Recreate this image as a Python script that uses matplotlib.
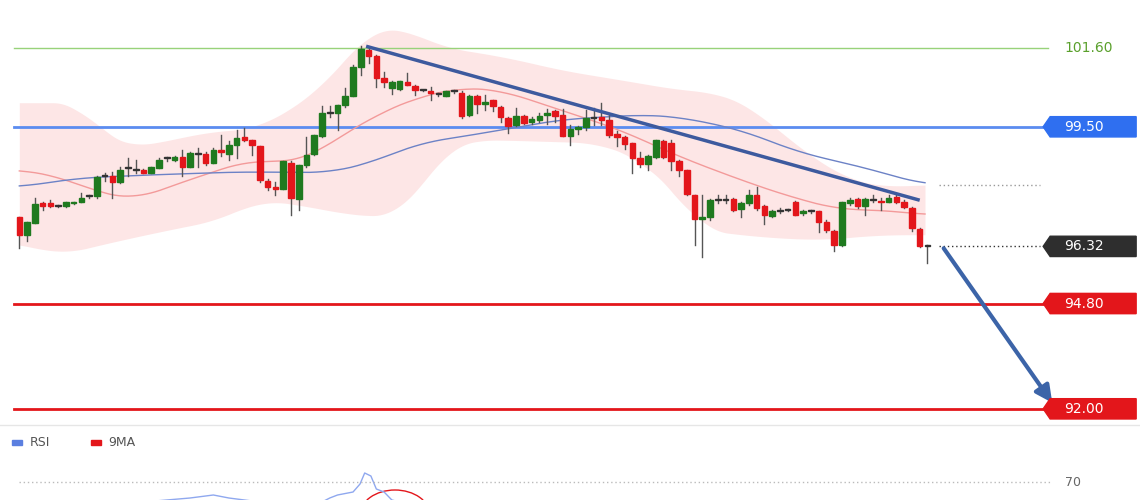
import numpy as np
import matplotlib.pyplot as plt
from matplotlib.patches import Rectangle, Polygon, Ellipse

# -------------------
# данные (цены)
# -------------------
opens = [97.11, 96.63, 96.94, 97.47, 97.47, 97.40, 97.40, 97.47, 97.49, 97.65,
         97.65, 98.18, 98.18, 98.02, 98.40, 98.35, 98.35, 98.28, 98.40, 98.67,
         98.62, 98.69, 98.44, 98.78, 98.78, 98.55, 98.89, 98.78, 99.02, 99.22,
         99.14, 99.00, 98.07, 97.91, 97.84, 98.55, 97.58, 98.49, 98.78, 99.26,
         99.86, 99.88, 100.09, 100.31, 101.10, 101.55, 101.39, 100.79, 100.53, 100.50,
         100.68, 100.59, 100.47, 100.44, 100.38, 100.32, 100.44, 100.41, 99.82, 100.32,
         100.11, 100.20, 100.02, 99.73, 99.55, 99.79, 99.64, 99.69, 99.82, 99.91,
         99.82, 99.26, 99.44, 99.49, 99.73, 99.76, 99.69, 99.31, 99.24, 99.08,
         98.67, 98.52, 98.71, 99.13, 99.08, 98.60, 98.34, 97.69, 97.04, 97.10,
         97.56, 97.56, 97.58, 97.31, 97.47, 97.69, 97.40, 97.13, 97.25, 97.29,
         97.51, 97.20, 97.25, 97.25, 96.98, 96.74, 96.36, 97.47, 97.58, 97.40,
         97.56, 97.54, 97.51, 97.63, 97.49, 97.34, 96.78, 96.33]
closes = [96.63, 96.96, 97.45, 97.40, 97.40, 97.40, 97.49, 97.49, 97.60, 97.65,
          98.16, 98.18, 98.04, 98.35, 98.40, 98.35, 98.28, 98.42, 98.62, 98.67,
          98.69, 98.44, 98.80, 98.78, 98.55, 98.89, 98.82, 99.02, 99.20, 99.14,
          99.02, 98.09, 97.91, 97.84, 98.58, 97.60, 98.49, 98.76, 99.29, 99.86,
          99.86, 100.09, 100.31, 101.10, 101.57, 101.39, 100.79, 100.68, 100.68, 100.71,
          100.62, 100.47, 100.47, 100.40, 100.38, 100.44, 100.44, 99.79, 100.31, 100.11,
          100.17, 100.06, 99.76, 99.53, 99.79, 99.61, 99.70, 99.79, 99.88, 99.79,
          99.26, 99.44, 99.49, 99.73, 99.73, 99.69, 99.29, 99.22, 99.05, 98.67,
          98.52, 98.73, 99.14, 98.71, 98.58, 98.34, 97.72, 97.04, 97.11, 97.56,
          97.56, 97.56, 97.29, 97.47, 97.69, 97.34, 97.16, 97.25, 97.25, 97.29,
          97.16, 97.25, 97.25, 96.96, 96.76, 96.36, 97.49, 97.56, 97.40, 97.58,
          97.56, 97.51, 97.60, 97.49, 97.36, 96.80, 96.32, 96.33]
highs = [97.11, 96.96, 97.60, 97.51, 97.56, 97.42, 97.51, 97.51, 97.73, 97.69,
         98.18, 98.27, 98.31, 98.44, 98.67, 98.62, 98.37, 98.44, 98.67, 98.71,
         98.73, 98.87, 98.84, 98.93, 98.84, 98.93, 99.29, 99.11, 99.42, 99.46,
         99.15, 99.00, 98.11, 98.04, 98.58, 98.58, 98.49, 99.24, 99.29, 100.04,
         100.04, 100.09, 100.53, 101.15, 101.65, 101.59, 101.42, 100.97, 100.71, 100.71,
         100.93, 100.62, 100.48, 100.57, 100.41, 100.44, 100.47, 100.44, 100.35, 100.35,
         100.35, 100.22, 100.04, 99.76, 100.00, 99.82, 99.76, 99.86, 99.97, 99.95,
         99.97, 99.55, 99.53, 99.95, 100.00, 100.13, 99.82, 99.38, 99.26, 99.08,
         98.84, 98.76, 99.15, 99.15, 99.15, 98.62, 98.35, 97.69, 97.69, 97.58,
         97.69, 97.69, 97.60, 97.51, 97.82, 97.91, 97.42, 97.29, 97.34, 97.31,
         97.54, 97.29, 97.29, 97.27, 97.03, 96.76, 97.51, 97.60, 97.60, 97.60,
         97.69, 97.60, 97.69, 97.69, 97.56, 97.38, 96.81, 96.36]
lows = [96.27, 96.45, 96.94, 97.29, 97.38, 97.38, 97.38, 97.45, 97.49, 97.60,
        97.60, 98.07, 97.60, 98.00, 98.18, 98.27, 98.27, 98.27, 98.40, 98.60,
        98.60, 98.18, 98.43, 98.44, 98.49, 98.53, 98.73, 98.62, 98.67, 99.11,
        98.76, 98.04, 97.82, 97.69, 97.84, 97.16, 97.29, 98.44, 98.76, 99.24,
        99.77, 99.42, 100.02, 100.31, 100.88, 101.19, 100.57, 100.57, 100.38, 100.48,
        100.62, 100.35, 100.44, 100.20, 100.32, 100.31, 100.41, 99.73, 99.79, 99.88,
        99.95, 99.91, 99.64, 99.33, 99.51, 99.58, 99.58, 99.64, 99.58, 99.64,
        99.26, 99.02, 99.31, 99.42, 99.55, 99.55, 99.24, 98.98, 98.90, 98.28,
        98.44, 98.35, 98.67, 98.67, 98.35, 98.18, 97.69, 96.36, 96.05, 97.03,
        97.47, 97.47, 97.27, 97.10, 97.42, 97.29, 96.92, 97.11, 97.20, 97.27,
        97.16, 97.16, 97.22, 96.71, 96.69, 96.21, 96.33, 97.42, 97.34, 97.16,
        97.51, 97.29, 97.49, 97.47, 97.34, 96.74, 96.30, 95.87]

# полосы Боллинджера и средние (точки)
upper_idx = [0, 8, 10.4, 13.6, 18.1, 23.3, 31, 38.7, 41.9, 45.2, 49.1, 54.2, 56.8,
             63.2, 69.7, 77.4, 85.1, 90.3, 94.2, 99.3, 103.2, 107.1, 111, 116.7]
upper_val = [100.14, 100.14, 99.34, 98.97, 99.07, 99.34, 99.47, 100.48, 101.28, 102.08,
             102.16, 101.63, 101.55, 101.33, 101.01, 100.75, 100.48, 100.40, 100.03,
             99.15, 98.54, 98.09, 97.90, 97.96]
lower_idx = [0, 5.2, 10.4, 18.1, 25.9, 31, 36.2, 42.6, 46.5, 49.1, 52, 55, 58,
             61.9, 74.8, 80, 85.1, 87.7, 95.5, 103.2, 111, 116.7]
lower_val = [96.41, 96.09, 96.36, 96.71, 97.03, 97.56, 97.42, 97.16, 97.11, 97.16,
             98.0, 98.9, 99.15, 99.15, 99.07, 98.62, 97.64, 96.76, 96.57, 96.49,
             96.63, 96.63]
ma_red_idx = [0, 5.2, 10.4, 14.9, 20.7, 25.9, 29.7, 34.9, 37.4, 41.3, 46.5, 51.6,
              56.8, 61.9, 69.7, 77.4, 85.1, 92.9, 99.3, 105.8, 111, 116.7]
ma_red_val = [98.36, 98.17, 97.74, 97.56, 98.01, 98.36, 98.62, 98.54, 98.70, 99.23,
              99.87, 100.30, 100.54, 100.48, 99.95, 99.42, 98.70, 98.09, 97.64,
              97.29, 97.29, 97.16]
ma_blue_idx = [0, 7.8, 16.8, 28.4, 40, 45.2, 51.6, 56.8, 64.5, 69.7, 80, 85.1,
               92.9, 100.6, 108.4, 116.7]
ma_blue_val = [97.90, 98.14, 98.22, 98.30, 98.28, 98.54, 99.07, 99.23, 99.50, 99.69,
               99.82, 99.76, 99.42, 98.81, 98.44, 97.96]

trend_idx = [44.9, 115.8]
trend_val = [101.63, 97.56]
arrow_from = (118.9, 96.33)
arrow_to = (133.3, 92.1)

rsi_idx = [16, 19, 22, 25, 27, 30, 36, 39, 40, 41, 43, 43.9, 44.5, 45.3, 46, 47, 48, 49]
rsi_val = [50, 52, 54, 57, 54, 51, 49, 50, 54, 57, 60, 68, 79, 76, 63, 60, 52, 50]

GREEN_LVL = 101.60
RES = 99.50
LAST = 96.32
SUP1 = 94.80
SUP2 = 92.00


def smooth_line(xs, ys, n=400, k=25):
    # сглаживание ломаной для вида
    gx = np.linspace(xs[0], xs[-1], n)
    gy = np.interp(gx, xs, ys)
    pad = np.pad(gy, k // 2, mode='edge')
    return gx, np.convolve(pad, np.ones(k) / k, mode='valid')


# -------------------
# рисуем
# -------------------
fig = plt.figure(figsize=(11.4, 5), dpi=100)
ax = fig.add_axes([0, 0.15, 1, 0.81])
XL = (-2.49, 144.4)
ax.set_xlim(*XL)
ax.set_ylim(91.57, 102.34)
ax.axis('off')

# полосы
bx, up = smooth_line(upper_idx, upper_val)
_, lo = smooth_line(lower_idx, lower_val)
ax.fill_between(bx, lo, up, color='#fde0e0', alpha=0.8, lw=0, zorder=1)
ax.plot(*smooth_line(ma_red_idx, ma_red_val), color='#f39a9a', lw=1, zorder=2)
ax.plot(*smooth_line(ma_blue_idx, ma_blue_val), color='#6c82c6', lw=1, zorder=2)

# уровни
x0, x1 = (14 - 19.3) / 7.76, (1048 - 19.3) / 7.76
ax.plot([x0, x1], [GREEN_LVL] * 2, color='#98d27a', lw=1, zorder=1)
ax.plot([x0, x1], [RES] * 2, color='#5b8cf0', lw=2, zorder=1.5)
ax.plot([x0, x1], [SUP1] * 2, color='#e3161b', lw=2, zorder=1.5)
ax.plot([x0, x1], [SUP2] * 2, color='#e3161b', lw=2, zorder=1.5)
ax.plot([118.5, 131.5], [97.96] * 2, color='#999999', lw=1, ls=(0, (1, 2)))
ax.plot([118.5, 131.5], [LAST] * 2, color='#333333', lw=1, ls=(0, (1, 2)))

# свечи
for i, (o, c, h, l) in enumerate(zip(opens, closes, highs, lows)):
    col = '#1f7a1f' if c > o else ('#e3161b' if c < o else '#333333')
    ax.plot([i, i], [l, h], color='#555555', lw=1, zorder=3)
    bot = min(o, c)
    hgt = max(abs(c - o), 0.03)
    ax.add_patch(Rectangle((i - 0.36, bot), 0.72, hgt, color=col, zorder=4))

# тренд и стрелка
ax.plot(trend_idx, trend_val, color='#3d5a9e', lw=2.5, zorder=5)
ax.annotate('', xy=arrow_to, xytext=arrow_from,
            arrowprops=dict(arrowstyle='-|>,head_width=0.5,head_length=1',
                            color='#3c64a8', lw=3))

# подписи уровней
ax.text(134.6, GREEN_LVL, '101.60', color='#5aa02c', fontsize=10, va='center')
bx0, bx1 = (1050 - 19.3) / 7.76, (1136 - 19.3) / 7.76
for val, col in [(RES, '#2f6ff0'), (LAST, '#2e2e2e'), (SUP1, '#e3161b'), (SUP2, '#e3161b')]:
    h = 0.27
    ax.add_patch(Polygon([(bx0 - 0.9, val), (bx0, val + h), (bx1, val + h),
                          (bx1, val - h), (bx0, val - h)], closed=True, color=col, zorder=6))
    ax.text(134.6, val, f'{val:.2f}', color='white', fontsize=10, va='center', zorder=7)

# разделитель
fig.add_artist(plt.Line2D([0, 1], [0.15, 0.15], color='#e6e6e6', lw=1))

# RSI панель
ax2 = fig.add_axes([0, 0, 1, 0.15])
ax2.set_xlim(*XL)
ax2.set_ylim(52, 127)
ax2.axis('off')
ax2.plot(rsi_idx, rsi_val, color='#8fa8ef', lw=1)
ax2.add_patch(Ellipse((48.4, 37), 9, 50, fill=False, color='#e3161b', lw=1))
ax2.plot([0, (1050 - 19.3) / 7.76], [70, 70], color='#bbbbbb', lw=1, ls=(0, (1, 2)))
ax2.text(134.8, 70, '70', color='#666666', fontsize=9, va='center')
ax2.add_patch(Rectangle((-0.9, 107.5), 1.3, 5, color='#5b7fe0'))
ax2.text(1.4, 110, 'RSI', color='#555555', fontsize=9, va='center')
ax2.add_patch(Rectangle((9.2, 107.5), 1.3, 5, color='#e3161b'))
ax2.text(11.5, 110, '9MA', color='#555555', fontsize=9, va='center')

fig.savefig('out.png', dpi=100)
